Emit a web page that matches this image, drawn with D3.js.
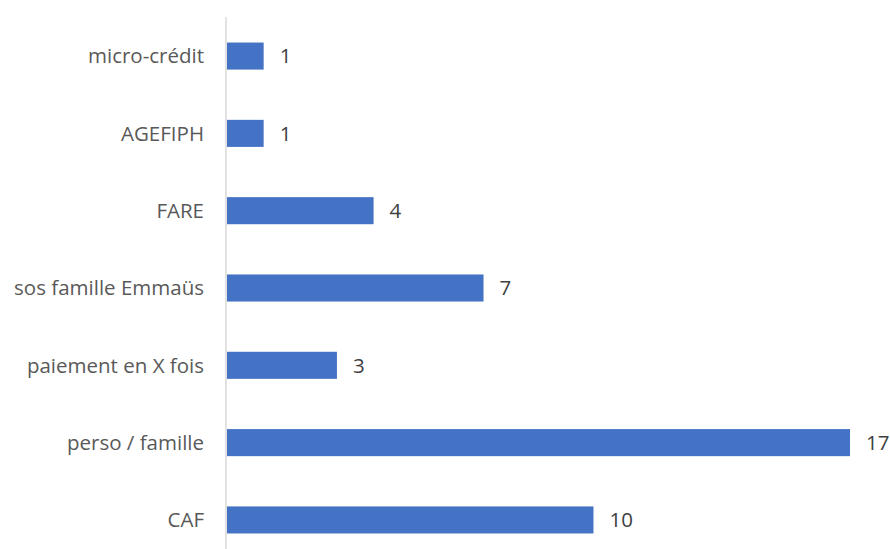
<!DOCTYPE html>
<html>
<head>
<meta charset="utf-8">
<script src="https://cdn.jsdelivr.net/npm/d3@7"></script>
<style>
  body { margin: 0; background: #fff; }
  text { font-family: "Open Sans", "Liberation Sans", sans-serif; }
</style>
</head>
<body>
<svg id="chart" width="890" height="549"></svg>
<script>
const categories = ["micro-crédit", "AGEFIPH", "FARE", "sos famille Emmaüs", "paiement en X fois", "perso / famille", "CAF"];
const values = [1, 1, 4, 7, 3, 17, 10];

const svg = d3.select("#chart");
const x0 = 227;
const x = d3.scaleLinear().domain([0, 17]).range([x0, 850]);
const y = d3.scaleBand().domain(categories).range([17.4, 558.6]).paddingInner(0.65).paddingOuter(0.325);

svg.selectAll("rect.bar").data(categories).enter().append("rect")
  .attr("class", "bar")
  .attr("x", x(0))
  .attr("y", d => y(d))
  .attr("width", (d, i) => x(values[i]) - x(0))
  .attr("height", y.bandwidth())
  .attr("fill", "#4472C4");

svg.append("line")
  .attr("x1", 226).attr("x2", 226)
  .attr("y1", 17).attr("y2", 549)
  .attr("stroke", "#d9d9d9").attr("stroke-width", 1.5);

svg.selectAll("text.cat").data(categories).enter().append("text")
  .attr("class", "cat")
  .attr("x", 204)
  .attr("y", d => y(d) + y.bandwidth() / 2)
  .attr("dy", "0.36em")
  .attr("text-anchor", "end")
  .attr("font-size", 20.5)
  .attr("fill", "#595959")
  .text(d => d);

svg.selectAll("text.val").data(categories).enter().append("text")
  .attr("class", "val")
  .attr("x", (d, i) => x(values[i]) + 16)
  .attr("y", d => y(d) + y.bandwidth() / 2)
  .attr("dy", "0.36em")
  .attr("font-size", 20.5)
  .attr("fill", "#404040")
  .text((d, i) => values[i]);
</script>
</body>
</html>
